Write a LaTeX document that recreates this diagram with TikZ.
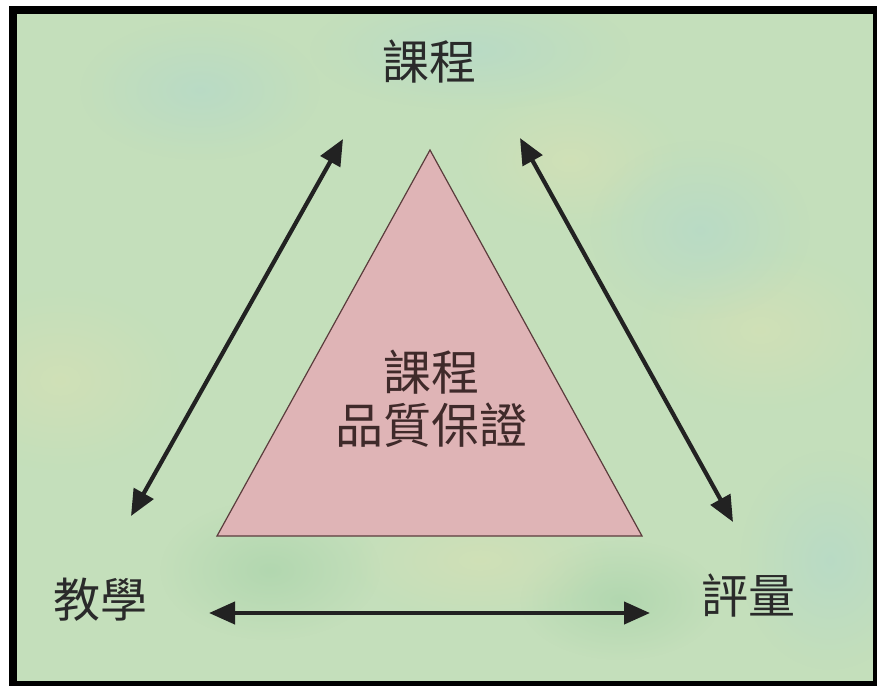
\documentclass[tikz,border=0pt]{standalone}
\usepackage{fontspec}
\newfontfamily\cjk{Noto Sans CJK TC}
\usetikzlibrary{arrows.meta,fadings}

\definecolor{bggreen}{RGB}{196,223,187}
\definecolor{bgblue}{RGB}{178,216,204}
\definecolor{bgyellow}{RGB}{216,225,180}
\definecolor{bgdark}{RGB}{166,210,168}
\definecolor{pinkfill}{RGB}{223,180,182}
\definecolor{pinkline}{RGB}{90,60,60}
\definecolor{textgray}{RGB}{42,42,42}
\definecolor{arrowgray}{RGB}{34,34,34}

\tikzfading[name=blob, inner color=transparent!0, outer color=transparent!100]

\tikzset{
	corner/.style={font=\cjk\fontsize{47}{53}\selectfont, text=textgray, inner sep=0pt},
	centre/.style={font=\cjk\fontsize{48}{53}\selectfont, text=pinkline!70!black, inner sep=0pt, align=center},
	link/.style={line width=4.2pt, draw=arrowgray, {Triangle[length=26pt,width=22pt]}-{Triangle[length=26pt,width=22pt]}},
	spot/.style={path fading=blob, fill opacity=0.6},
}

\begin{document}
\begin{tikzpicture}[x=1pt,y=-1pt]
		\useasboundingbox (0,0) rectangle (877,686);
		\fill[white] (0,0) rectangle (877,686);

		% Frame and background
		\fill[black] (9,6) rectangle (877,686);
		\fill[bggreen] (17,14) rectangle (873,681);
		\begin{scope}
			\clip (17,14) rectangle (873,681);
			\fill[bgyellow, spot] (60,380) ellipse (120 and 90);
			\fill[bgyellow, spot] (570,160) ellipse (110 and 70);
			\fill[bgyellow, spot] (760,330) ellipse (120 and 80);
			\fill[bgblue, spot] (470,50) ellipse (160 and 60);
			\fill[bgblue, spot] (200,90) ellipse (120 and 70);
			\fill[bgblue, spot] (700,230) ellipse (110 and 90);
			\fill[bgblue, spot] (830,560) ellipse (90 and 110);
			\fill[bgdark, spot] (270,570) ellipse (110 and 70);
			\fill[bgdark, spot] (620,600) ellipse (100 and 60);
			\fill[bgyellow, spot] (480,560) ellipse (130 and 60);
		\end{scope}

		% Triangle
		\coordinate (apex) at (430,150);
		\coordinate (left) at (217,536);
		\coordinate (right) at (642,536);
		\filldraw[fill=pinkfill, draw=pinkline, line width=1.2pt] (apex) -- (left) -- (right) -- cycle;
		\node[centre] (quality) at (431,399) {課程\\品質保證};

		% Corners
		\node[corner] (course) at (429,62) {課程};
		\node[corner] (teach) at (100,600) {教學};
		\node[corner] (assess) at (748,596) {評量};

		% Arrow ends
		\coordinate (c1) at (343,139);
		\coordinate (t1) at (131,516);
		\coordinate (c2) at (520,138);
		\coordinate (a1) at (733,522);
		\coordinate (t2) at (209,613);
		\coordinate (a2) at (650,613);

		% Connections
		\draw[link] (t1) -- (c1);
		\draw[link] (c2) -- (a1);
		\draw[link] (t2) -- (a2);
	\end{tikzpicture}
\end{document}
